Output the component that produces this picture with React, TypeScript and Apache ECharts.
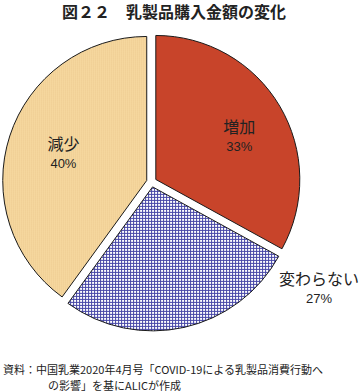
import { useEffect, useRef } from "react";
import * as echarts from "echarts";

const CATEGORIES = ["増加", "変わらない", "減少"];
const VALUES = [33, 27, 40];
const TITLE = "図２２　乳製品購入金額の変化";
const SOURCE_LINES = [
  "資料：中国乳業2020年4月号「COVID-19による乳製品消費行動へ",
  "の影響」を基にALICが作成",
];

const LABEL_SHIFT: [number, number][] = [
  [19, -5],
  [150, 28],
  [-12, -4],
];

function makePattern(kind: "grid" | "dots") {
  const c = document.createElement("canvas");
  const ctx = c.getContext("2d")!;
  if (kind === "grid") {
    c.width = 3;
    c.height = 3;
    ctx.fillStyle = "#ffffff";
    ctx.fillRect(0, 0, 3, 3);
    ctx.fillStyle = "#4646a6";
    ctx.fillRect(0, 0, 3, 1);
    ctx.fillRect(0, 0, 1, 3);
  } else {
    c.width = 2;
    c.height = 2;
    ctx.fillStyle = "#f7d9a0";
    ctx.fillRect(0, 0, 2, 2);
    ctx.fillStyle = "#e8c48a";
    ctx.fillRect(0, 0, 1, 1);
  }
  return { image: c, repeat: "repeat", imageWidth: c.width, imageHeight: c.height } as any;
}

export default function App() {
  const ref = useRef<HTMLDivElement>(null);
  useEffect(() => {
    if (!ref.current) return;
    const chart = echarts.init(ref.current, undefined, { renderer: "svg" });
    const fills = ["#c8442a", makePattern("grid"), makePattern("dots")];
    const baseStyle = (i: number) => ({ color: fills[i], borderColor: "#1a1a1a", borderWidth: 1 });
    const footStyle = { fontFamily: "Noto Sans CJK JP", fontSize: 11, fill: "#222" };
    chart.setOption({
      animation: false,
      title: {
        text: TITLE,
        left: 62,
        top: 3,
        padding: 0,
        textStyle: {
          fontFamily: "Noto Sans CJK JP",
          fontSize: 16,
          fontWeight: "bold",
          color: "#222",
          lineHeight: 16,
        },
      },
      series: [
        {
          type: "pie",
          center: [151.5, 182],
          radius: 144,
          startAngle: 90,
          clockwise: true,
          selectedMode: "multiple",
          selectedOffset: 5,
          emphasis: { disabled: true },
          label: {
            show: true,
            position: "inside",
            formatter: "{n|{b}}\n{p|{c}%}",
            rich: {
              n: { fontFamily: "Noto Sans CJK JP", fontSize: 16, color: "#222", lineHeight: 21 },
              p: { fontFamily: "Liberation Sans", fontSize: 13, color: "#222", lineHeight: 21 },
            },
          },
          labelLine: { show: false },
          labelLayout: (params: any) => ({
            dx: LABEL_SHIFT[params.dataIndex][0],
            dy: LABEL_SHIFT[params.dataIndex][1],
          }),
          data: CATEGORIES.map((name, i) => ({
            name,
            value: VALUES[i],
            selected: true,
            itemStyle: baseStyle(i),
            select: { itemStyle: baseStyle(i) },
          })),
        },
      ],
      graphic: [
        {
          type: "text",
          x: 3,
          y: 369,
          style: { text: SOURCE_LINES[0], ...footStyle, verticalAlign: "middle", align: "left" },
        },
        {
          type: "text",
          x: 48,
          y: 384.5,
          style: { text: SOURCE_LINES[1], ...footStyle, verticalAlign: "middle", align: "left" },
        },
      ],
    });
    return () => chart.dispose();
  }, []);
  return (
    <div
      ref={ref}
      style={{ position: "fixed", left: 0, top: 0, width: 361, height: 391, background: "#fff" }}
    />
  );
}
